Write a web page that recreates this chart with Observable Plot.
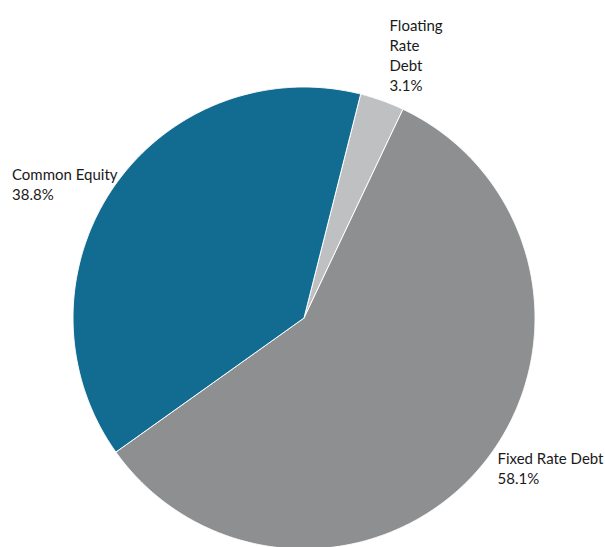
<!DOCTYPE html>
<html>
<head>
<meta charset="utf-8">
<script src="https://cdn.jsdelivr.net/npm/d3@7"></script>
<script src="https://cdn.jsdelivr.net/npm/@observablehq/plot@0.6"></script>
<style>
  html, body { margin: 0; padding: 0; background: #fff; overflow: hidden; }
</style>
</head>
<body>
<div id="chart"></div>
<script>
// Data
const categories = ["Floating Rate Debt", "Fixed Rate Debt", "Common Equity"];
const shares = [3.1, 58.1, 38.8];
const labelTexts = ["Floating\nRate\nDebt\n3.1%", "Fixed Rate Debt\n58.1%", "Common Equity\n38.8%"];
const colors = ["#bfc0c2", "#8e8f91", "#126b91"];

// Layout
const W = 605, H = 547;
const cx = 303.5, cy = 317.5, R = 231;
const startDeg = 14.2;
const labelPx = [[389, 16], [497, 449.5], [11.5, 165]];

const arcs = d3.pie().sort(null)
  .startAngle(startDeg * Math.PI / 180)
  .endAngle((startDeg + 360) * Math.PI / 180)(shares);

const poly = [];
arcs.forEach((a, i) => {
  const cat = categories[i];
  poly.push({cat, x: 0, y: 0});
  const n = Math.max(2, Math.ceil((a.endAngle - a.startAngle) / (0.25 * Math.PI / 180)));
  for (let k = 0; k <= n; k++) {
    const t = a.startAngle + (a.endAngle - a.startAngle) * k / n;
    poly.push({cat, x: Math.sin(t), y: Math.cos(t)});
  }
  poly.push({cat, x: 0, y: 0});
});

const labels = categories.map((c, i) => ({
  cat: c,
  text: labelTexts[i],
  x: (labelPx[i][0] - cx) / R,
  y: (cy - labelPx[i][1]) / R
}));

const chart = Plot.plot({
  width: W,
  height: H,
  margin: 0,
  x: {domain: [-cx / R, (W - cx) / R], axis: null},
  y: {domain: [(cy - H) / R, cy / R], axis: null},
  color: {domain: categories, range: colors},
  style: {fontFamily: "Lato, 'Open Sans', sans-serif", background: "#fff"},
  marks: [
    Plot.line(poly, {x: "x", y: "y", z: "cat", fill: "cat", stroke: "#fff", strokeWidth: 1, strokeLinejoin: "round"}),
    Plot.text(labels, {x: "x", y: "y", text: "text", textAnchor: "start", lineAnchor: "top",
      lineHeight: 1.33, fontSize: 15, fill: "#1a1a1a"})
  ]
});
document.getElementById("chart").appendChild(chart);
</script>
</body>
</html>
